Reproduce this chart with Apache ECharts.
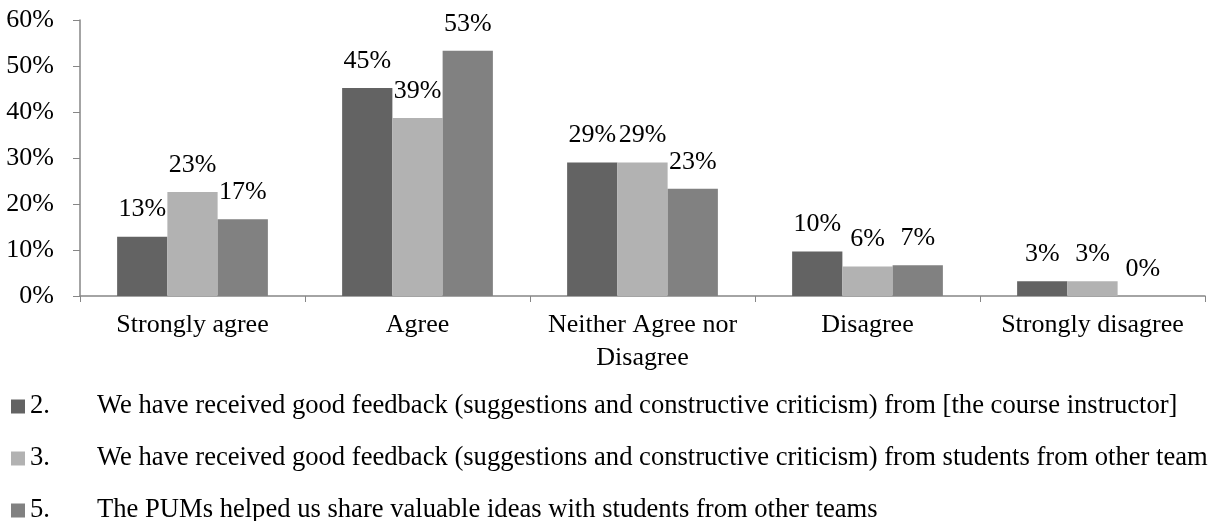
<!DOCTYPE html>
<html>
<head>
<meta charset="utf-8">
<script src="https://cdn.jsdelivr.net/npm/echarts@6/dist/echarts.min.js"></script>
<style>
  html, body { margin: 0; padding: 0; background: #fff; }
  #chart { width: 1208px; height: 521px; }
</style>
</head>
<body>
<div id="chart"></div>
<script>
// categories on the x axis
var categories = ['Strongly agree', 'Agree', 'Neither Agree nor\nDisagree', 'Disagree', 'Strongly disagree'];

// series names (number | statement)
var seriesNames = [
    '2.|We have received good feedback (suggestions and constructive criticism) from [the course instructor]',
    '3.|We have received good feedback (suggestions and constructive criticism) from students from other teams',
    '5.|The PUMs helped us share valuable ideas with students from other teams'
];

// values in percent
var q2Values = [12.9, 45.2, 29.0, 9.7, 3.2];
var q3Values = [22.6, 38.7, 29.0, 6.4, 3.2];
var q5Values = [16.7, 53.3, 23.3, 6.7, 0];

var yTicks = [0, 10, 20, 30, 40, 50, 60];

var colors = ['#636363', '#b2b2b2', '#818181'];
var font = "'Liberation Serif', 'Times New Roman', serif";

var myChart = echarts.init(document.getElementById('chart'));

function makeSeries(name, data, color) {
    return {
        name: name,
        type: 'bar',
        data: data,
        barGap: '0%',
        barCategoryGap: '33%',
        itemStyle: { color: color },
        label: {
            show: true,
            position: 'top',
            distance: 14,
            color: '#000',
            fontFamily: font,
            fontSize: 26,
            formatter: function (p) { return Math.round(p.value) + '%'; }
        }
    };
}

var option = {
    animation: false,
    color: colors,
    textStyle: { fontFamily: font },
    grid: {
        left: 80,
        right: 3,
        top: 20,
        bottom: 225,
        containLabel: false
    },
    legend: {
        orient: 'vertical',
        left: 11,
        top: 393,
        padding: 0,
        height: 200,
        itemWidth: 14,
        itemHeight: 14,
        itemGap: 25,
        icon: 'rect',
        data: seriesNames,
        formatter: function (name) {
            var parts = name.split('|');
            return '{n|' + parts[0] + '}{t|' + parts[1] + '}';
        },
        textStyle: {
            color: '#000',
            fontFamily: font,
            fontSize: 26.6,
            rich: {
                n: { width: 67, fontFamily: font, fontSize: 26.6, color: '#000', lineHeight: 30 },
                t: { fontFamily: font, fontSize: 26.6, color: '#000', lineHeight: 30 }
            }
        }
    },
    xAxis: {
        type: 'category',
        data: categories,
        axisLine: { lineStyle: { color: '#868686', width: 1.5 } },
        axisTick: { show: true, length: 6, lineStyle: { color: '#868686' } },
        axisLabel: {
            color: '#000',
            fontFamily: font,
            fontSize: 26,
            lineHeight: 33,
            margin: 13,
            interval: 0
        }
    },
    yAxis: {
        type: 'value',
        min: 0,
        max: 60,
        interval: 10,
        axisLine: { show: true, lineStyle: { color: '#868686', width: 1.5 } },
        axisTick: { show: true, length: 7, lineStyle: { color: '#868686' } },
        splitLine: { show: false },
        axisLabel: {
            color: '#000',
            fontFamily: font,
            fontSize: 26,
            margin: 26,
            formatter: function (v) {
                return yTicks.indexOf(v) >= 0 ? v + '%' : '';
            }
        }
    },
    series: [
        makeSeries(seriesNames[0], q2Values, colors[0]),
        makeSeries(seriesNames[1], q3Values, colors[1]),
        makeSeries(seriesNames[2], q5Values, colors[2])
    ]
};

myChart.setOption(option);
</script>
</body>
</html>
